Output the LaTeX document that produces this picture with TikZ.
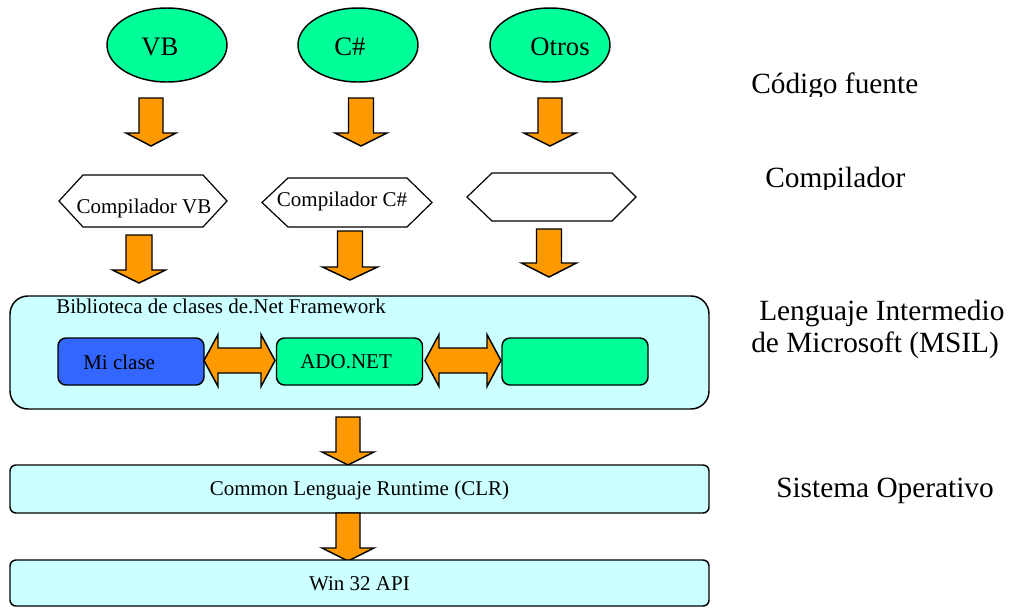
\documentclass[tikz,border=0pt]{standalone}
\usepackage{fontspec}
\setmainfont{Liberation Serif}
\usetikzlibrary{shapes.geometric}
\definecolor{lang}{HTML}{00FF99}
\definecolor{arrowor}{HTML}{FF9900}
\definecolor{pale}{HTML}{CCFFFF}
\definecolor{myblue}{HTML}{3366FF}
\newcommand\dnarrow[6]{% x, top, base, tip, shaft half width, head half width
  \draw[barrow] ({#1-#5},#2) -- ({#1+#5},#2) -- ({#1+#5},#3) -- ({#1+#6},#3) -- (#1,#4) -- ({#1-#6},#3) -- ({#1-#5},#3) -- cycle;}
\newcommand\lrarrow[2]{% left tip, right tip
  \draw[barrow] (#1,360.5) -- ({#1+14},334.5) -- ({#1+14},348) -- ({#2-14},348) -- ({#2-14},334.5) -- (#2,360.5) -- ({#2-14},386.5) -- ({#2-14},373) -- ({#1+14},373) -- ({#1+14},386.5) -- cycle;}
\newcommand\hexa[6]{% x1 x2 x3 x4 ytop ybottom
  \draw[hexline] (#1,{(#5+#6)/2}) -- (#2,#5) -- (#3,#5) -- (#4,{(#5+#6)/2}) -- (#3,#6) -- (#2,#6) -- cycle;}
\begin{document}
\begin{tikzpicture}[x=0.75pt,y=-0.75pt,
  barrow/.style={draw=black, fill=arrowor, line width=1.1pt, line join=miter},
  hexline/.style={draw=black, fill=white, line width=0.9pt},
  txt/.style={inner sep=0pt, text=black},
  small/.style={txt, font=\fontsize{15.75}{18}\selectfont},
  big/.style={txt, font=\fontsize{22}{26}\selectfont},
  elltxt/.style={txt, font=\fontsize{20}{24}\selectfont},
  langell/.style={draw=black, line width=1.1pt, fill=lang, ellipse, inner sep=0pt, minimum width=90pt, minimum height=55.5pt},
  rbox/.style={draw=black, line width=1.1pt, rounded corners=6pt, inner sep=0pt},
  libbox/.style={rbox, fill=pale, rounded corners=13.5pt, minimum width=524.25pt, minimum height=84.75pt},
  classbox/.style={rbox, minimum width=109.5pt, minimum height=35.25pt},
  osbox/.style={rbox, fill=pale, rounded corners=4.5pt, minimum width=524.25pt},
]
\useasboundingbox (0,0) rectangle (1010,608);

% source languages
\node[langell] (vb) at (167,45) {};
\node[langell] (cs) at (358,45) {};
\node[langell] (ot) at (550,45) {};
\node[elltxt, anchor=base] (vbt) at (160,55) {VB};
\node[elltxt, anchor=base] (cst) at (350,55) {C\#};
\node[elltxt, anchor=base] (ott) at (560,55) {Otros};

% arrows to compilers
\dnarrow{151}{98}{133}{146}{12}{25}
\dnarrow{361}{98}{133}{146}{12.5}{26}
\dnarrow{550}{98}{133}{146}{12}{26}

% compilers
\hexa{59}{83}{203}{227}{175}{227}
\hexa{262}{288}{407}{432}{178}{227}
\hexa{467}{492}{612}{636}{173}{221}
\node[small, anchor=base] (cvb) at (144,213) {Compilador VB};
\node[small, anchor=base] (ccs) at (342,206) {Compilador C\#};

% arrows to library
\dnarrow{139}{235}{270}{283}{13}{26.5}
\dnarrow{350}{231}{267}{280}{12.5}{27.5}
\dnarrow{549}{229}{263}{277}{12.5}{27.5}

% class library
\node[libbox] (lib) at (359.5,352.5) {};
\node[small, anchor=base west] (libt) at (56,313) {Biblioteca de clases de.Net Framework};
\node[classbox, fill=myblue] (mi) at (131,361.5) {};
\node[classbox, fill=lang] (ado) at (349.5,361.5) {};
\node[classbox, fill=lang] (oth) at (575,361.5) {};
\node[small, anchor=west] (mit) at (83,362) {Mi clase};
\node[small, anchor=west] (adot) at (300,362) {ADO.NET};
\lrarrow{204}{275}
\lrarrow{425}{501}

% runtime and OS
\dnarrow{348}{417}{452}{465}{12}{26}
\node[osbox, minimum height=36pt] (clr) at (359.5,489) {};
\node[small] (clrt) at (359.5,490) {Common Lenguaje Runtime (CLR)};
\dnarrow{348}{513}{548}{561}{12}{26}
\node[osbox, minimum height=34.5pt] (win) at (359.5,583) {};
\node[small] (wint) at (359.5,584) {Win 32 API};

% right-hand labels
\begin{scope}
  \clip (740,60) rectangle (1010,96);
  \node[big, anchor=base west] (l1) at (751,93) {Código fuente};
\end{scope}
\begin{scope}
  \clip (740,150) rectangle (1010,189.5);
  \node[big, anchor=base west] (l2) at (765,187) {Compilador};
\end{scope}
\node[big, anchor=base west] (l3) at (759,320) {Lenguaje Intermedio};
\node[big, anchor=base west] (l4) at (751,352) {de Microsoft (MSIL)};
\node[big, anchor=base west] (l5) at (776,497) {Sistema Operativo};
\end{tikzpicture}
\end{document}
